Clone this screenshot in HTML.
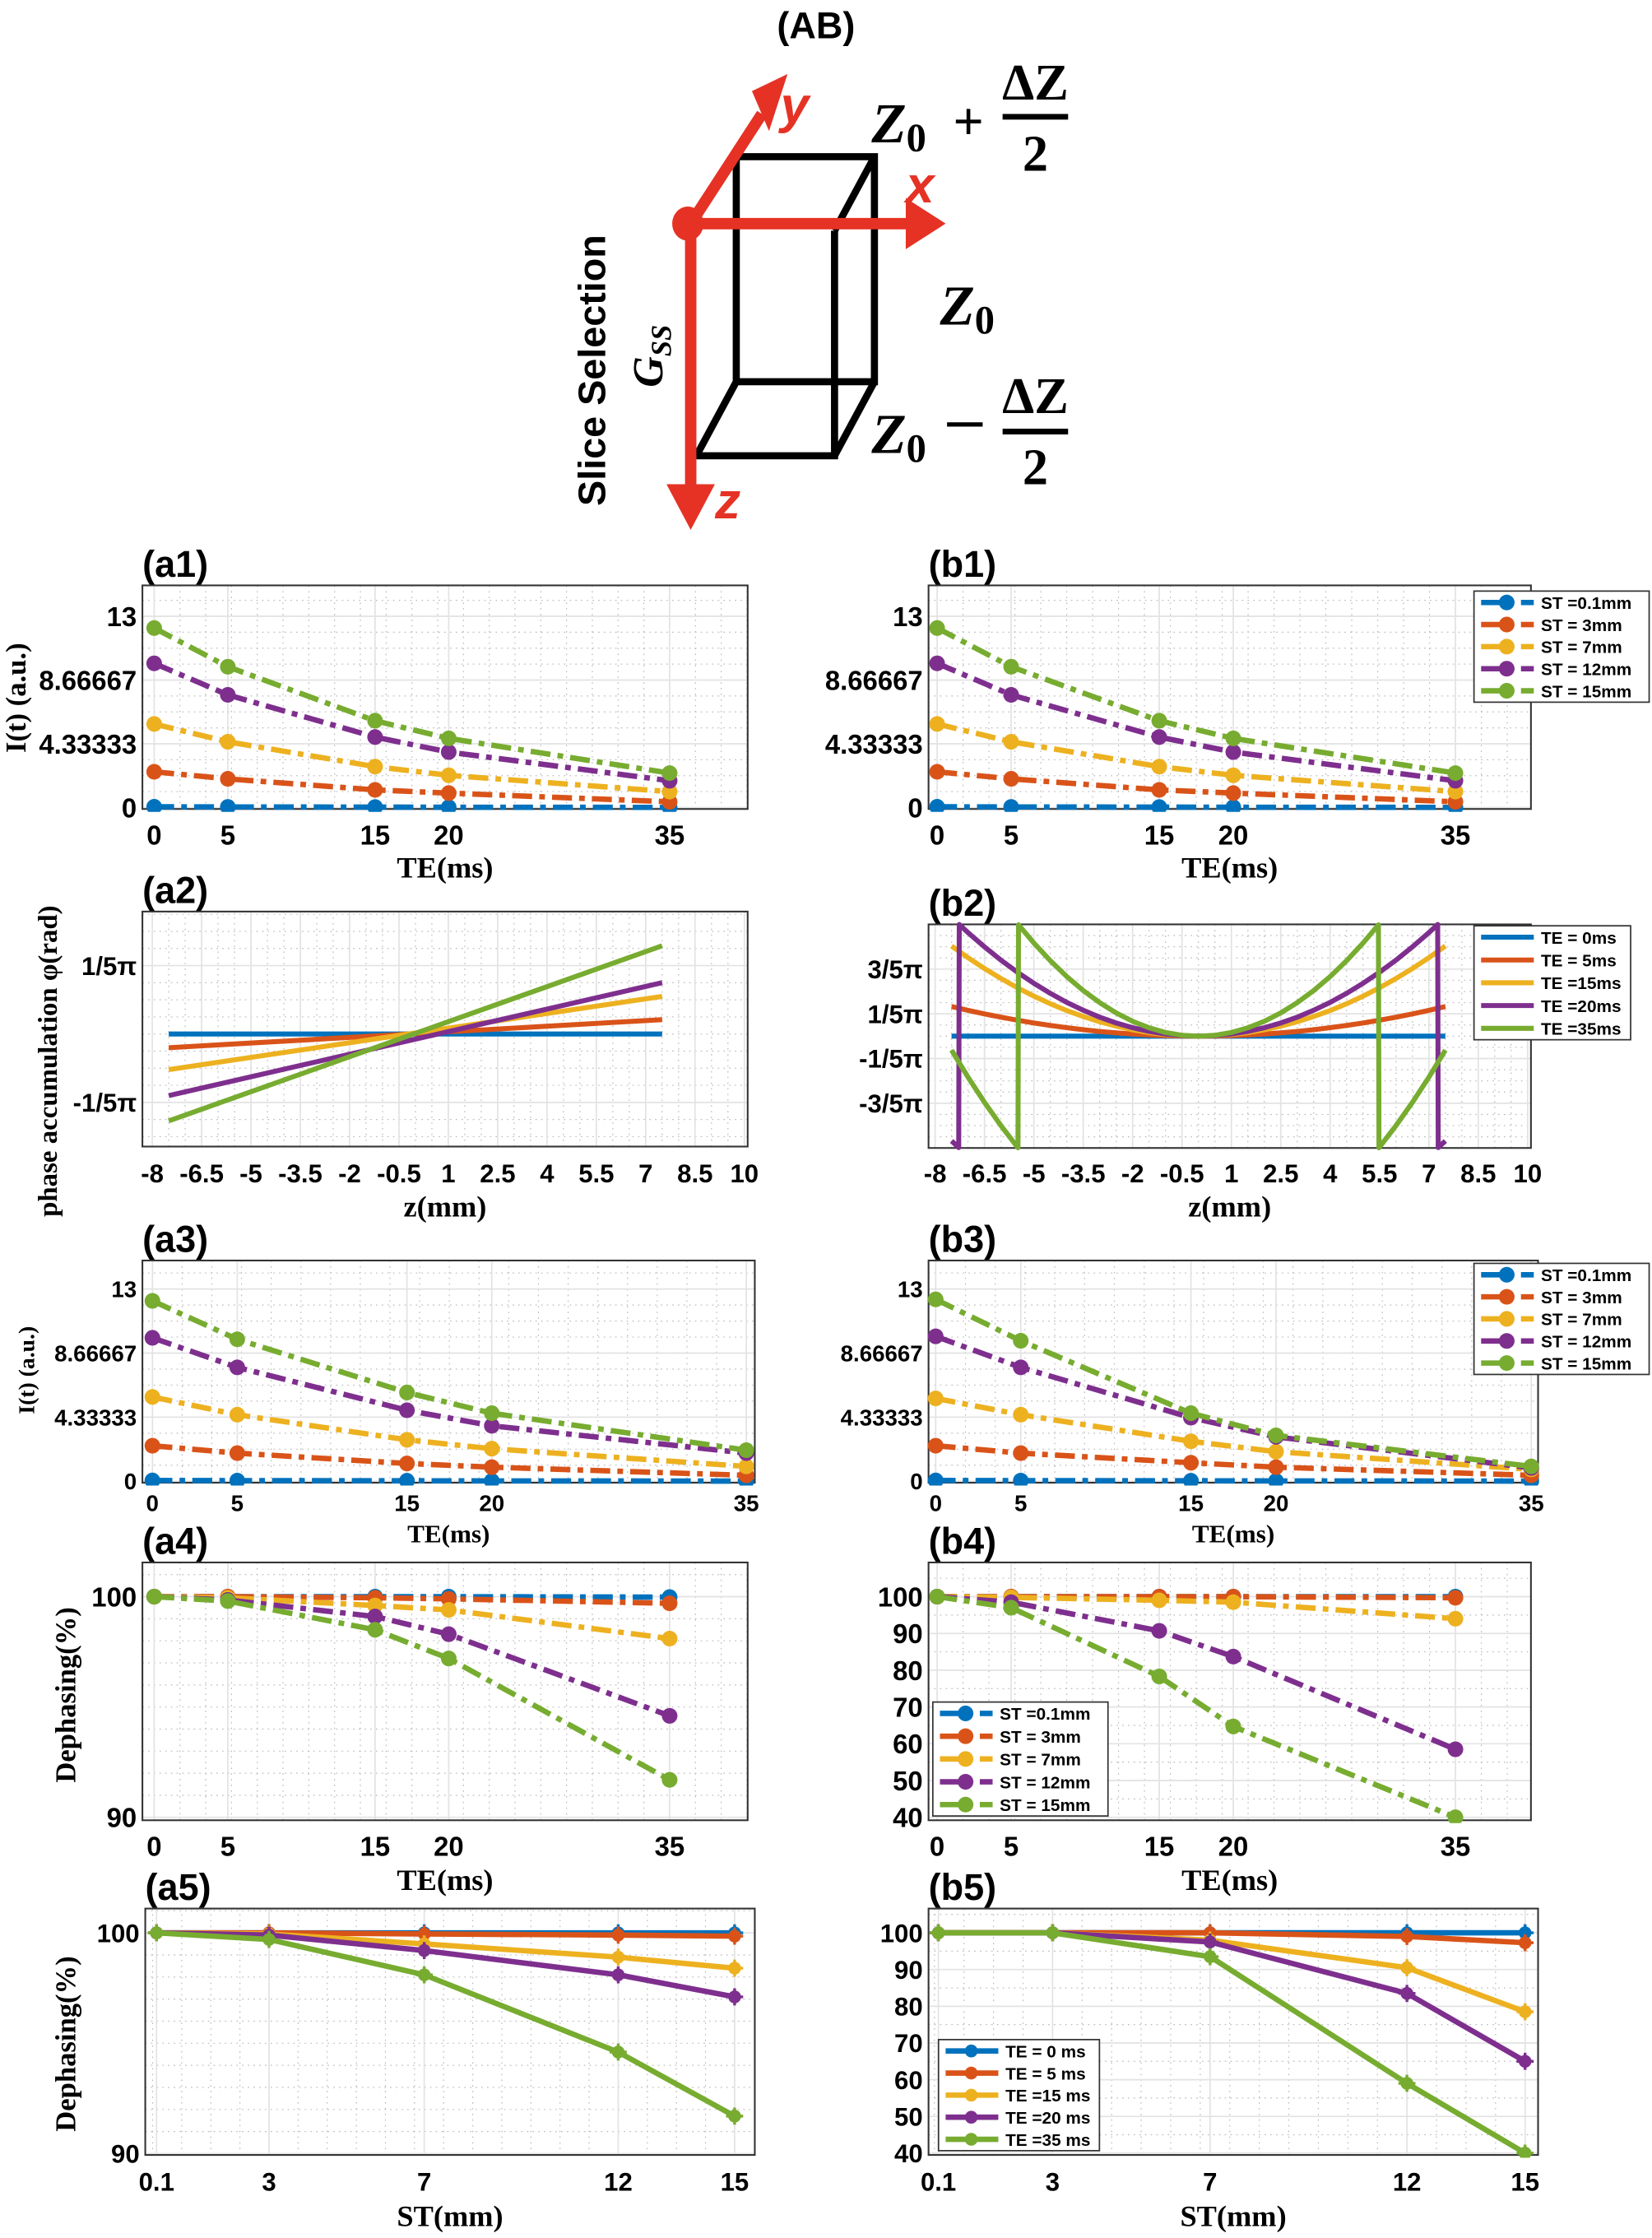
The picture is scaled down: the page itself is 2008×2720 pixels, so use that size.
<!DOCTYPE html>
<html><head><meta charset="utf-8">
<style>
html,body{margin:0;padding:0;background:#fff;}
svg{display:block;}
.tk{font-family:"Liberation Sans Narrow","Liberation Sans",sans-serif;font-weight:bold;fill:#000;}
.ser{font-family:"Liberation Serif",serif;font-weight:bold;fill:#000;}
.ttl{font-family:"Liberation Sans",sans-serif;font-weight:bold;fill:#000;font-size:26px;}
.lg{font-family:"Liberation Sans Narrow","Liberation Sans",sans-serif;font-weight:bold;font-size:12px;fill:#000;}
</style></head>
<body>
<svg id="fig" width="2008" height="2720" viewBox="0 0 1160 1571.3" preserveAspectRatio="none" xmlns="http://www.w3.org/2000/svg">
<rect x="0" y="0" width="1160" height="1571.3" fill="#fff"/>
<g>
  <text x="573" y="27" text-anchor="middle" class="ttl" font-size="24">(AB)</text>
  <g stroke="#000" stroke-width="5" fill="none">
    <polyline points="517,268 517,110 614,110 614,268 517,268"/>
    <polyline points="489,320 586,320 586,162"/>
    <line x1="614" y1="110" x2="586" y2="162"/>
    <line x1="614" y1="268" x2="586" y2="320"/>
    <line x1="517" y1="268" x2="489" y2="320"/>
  </g>
  <g fill="#e53225" stroke="none">
    <line x1="485" y1="157" x2="535" y2="80" stroke="#e53225" stroke-width="8"/>
    <polygon points="528,64 553,52 540,92"/>
    <line x1="485" y1="157" x2="640" y2="157" stroke="#e53225" stroke-width="8"/>
    <polygon points="636,139 664,157 636,175"/>
    <line x1="485" y1="157" x2="485" y2="345" stroke="#e53225" stroke-width="8"/>
    <polygon points="468,340 502,340 485,372"/>
    <ellipse cx="483" cy="157" rx="11" ry="12"/>
  </g>
  <text x="548" y="86" fill="#e53225" font-family="Liberation Sans,sans-serif" font-weight="bold" font-style="italic" font-size="36">y</text>
  <text x="636" y="142" fill="#e53225" font-family="Liberation Sans,sans-serif" font-weight="bold" font-style="italic" font-size="36">x</text>
  <text x="502" y="364" fill="#e53225" font-family="Liberation Sans,sans-serif" font-weight="bold" font-style="italic" font-size="36">z</text>
  <g class="ser" font-style="italic">
    <text x="612" y="100" font-size="40">Z<tspan font-size="28" font-style="normal" dy="6">0</tspan></text>
    <text x="680" y="98" font-size="38" text-anchor="middle" font-style="normal">+</text>
    <text x="727" y="70" font-size="36" text-anchor="middle" font-style="normal">ΔZ</text>
    <line x1="704" y1="82" x2="750" y2="82" stroke="#000" stroke-width="4"/>
    <text x="727" y="120" font-size="36" text-anchor="middle" font-style="normal">2</text>
  </g>
  <text x="660" y="228" class="ser" font-style="italic" font-size="40">Z<tspan font-size="28" font-style="normal" dy="6">0</tspan></text>
  <g class="ser" font-style="italic">
    <text x="612" y="318" font-size="40">Z<tspan font-size="28" font-style="normal" dy="6">0</tspan></text>
    <line x1="665" y1="298" x2="690" y2="298" stroke="#000" stroke-width="3"/>
    <text x="727" y="290" font-size="36" text-anchor="middle" font-style="normal">ΔZ</text>
    <line x1="704" y1="303" x2="750" y2="303" stroke="#000" stroke-width="4"/>
    <text x="727" y="340" font-size="36" text-anchor="middle" font-style="normal">2</text>
  </g>
  <text transform="translate(425,260) rotate(-90)" text-anchor="middle" font-family="Liberation Sans,sans-serif" font-weight="bold" font-size="27">Slice Selection</text>
  <text transform="translate(465,250) rotate(-90)" text-anchor="middle" class="ser" font-style="italic" font-size="30">G<tspan font-size="20" dy="6">SS</tspan></text>
</g>
<g id="charts"></g>
</svg>
<script>
const NS = "http://www.w3.org/2000/svg";
const COLORS = ["#0072BD","#D95319","#EDB120","#7E2F8E","#77AC30"];
// ---------- data ----------
const teValues = [0,5,15,20,35];
const teTickLabels = ["0","5","15","20","35"];
const intensityTicks = [0,4.33333,8.66667,13];
const intensityTickLabels = ["0","4.33333","8.66667","13"];
const stNames = ["ST =0.1mm","ST =  3mm","ST =  7mm","ST = 12mm","ST = 15mm"];
const teNames = ["TE = 0ms","TE = 5ms","TE =15ms","TE =20ms","TE =35ms"];
const teNames5 = ["TE = 0 ms","TE = 5 ms","TE =15 ms","TE =20 ms","TE =35 ms"];
const a1Blue = [0.05,0.04,0.03,0.02,0.01];
const a1Orange = [2.43,1.95,1.2,0.98,0.39];
const a1Yellow = [5.68,4.47,2.78,2.19,1.08];
const a1Purple = [9.8,7.66,4.79,3.77,1.82];
const a1Green = [12.2,9.57,5.9,4.7,2.34];
const b1Blue = [0.05,0.04,0.03,0.02,0.01];
const b1Orange = [2.43,1.95,1.2,0.98,0.39];
const b1Yellow = [5.68,4.47,2.78,2.19,1.08];
const b1Purple = [9.8,7.66,4.79,3.77,1.82];
const b1Green = [12.2,9.57,5.9,4.7,2.34];
const a2Z = [-7.5,7.5];
const a2Blue = [0,0];
const a2Orange = [-0.04,0.042];
const a2Yellow = [-0.104,0.11];
const a2Purple = [-0.18,0.15];
const a2Green = [-0.254,0.258];
const phaseZTicks = [-8,-6.5,-5,-3.5,-2,-0.5,1,2.5,4,5.5,7,8.5,10];
const phaseZTickLabels = ["-8","-6.5","-5","-3.5","-2","-0.5","1","2.5","4","5.5","7","8.5","10"];
const a2YTicks = [-0.2,0.2];
const a2YTickLabels = ["-1/5π","1/5π"];
const b2YTicks = [-0.6,-0.2,0.2,0.6];
const b2YTickLabels = ["-3/5π","-1/5π","1/5π","3/5π"];
const b2Z = [-7.5,-7,-6.5,-6,-5.5,-5,-4.5,-4,-3.5,-3,-2.5,-2,-1.5,-1,-0.5,0,0.5,1,1.5,2,2.5,3,3.5,4,4.5,5,5.5,6,6.5,7,7.5];
const b2Blue = [0,0,0,0,0,0,0,0,0,0,0,0,0,0,0,0,0,0,0,0,0,0,0,0,0,0,0,0,0,0,0];
const b2Orange = [0.265,0.231,0.199,0.170,0.143,0.118,0.096,0.076,0.058,0.042,0.030,0.019,0.011,0.005,0.001,0,0.001,0.005,0.011,0.019,0.030,0.042,0.058,0.076,0.096,0.118,0.143,0.170,0.199,0.231,0.265];
const b2Yellow = [0.806,0.702,0.605,0.516,0.433,0.358,0.290,0.229,0.176,0.129,0.090,0.057,0.032,0.014,0.004,0,0.004,0.014,0.032,0.057,0.090,0.129,0.176,0.229,0.290,0.358,0.433,0.516,0.605,0.702,0.806];
const b2Purple = [1.063,0.926,0.799,0.680,0.572,0.473,0.383,0.302,0.232,0.170,0.118,0.076,0.043,0.019,0.005,0,0.005,0.019,0.043,0.076,0.118,0.170,0.232,0.302,0.383,0.473,0.572,0.680,0.799,0.926,1.063];
const b2Green = [1.875,1.633,1.408,1.200,1.008,0.833,0.675,0.533,0.408,0.300,0.208,0.133,0.075,0.033,0.008,0,0.008,0.033,0.075,0.133,0.208,0.300,0.408,0.533,0.675,0.833,1.008,1.200,1.408,1.633,1.875];
const a3Blue = [0.05,0.04,0.03,0.02,0.01];
const a3Orange = [2.4,1.9,1.2,0.95,0.4];
const a3Yellow = [5.7,4.5,2.8,2.2,1.0];
const a3Purple = [9.7,7.7,4.8,3.75,1.9];
const a3Green = [12.2,9.6,6.0,4.6,2.1];
const b3Blue = [0.05,0.04,0.03,0.02,0.01];
const b3Orange = [2.4,1.9,1.25,0.95,0.4];
const b3Yellow = [5.6,4.5,2.7,2.0,0.8];
const b3Purple = [9.8,7.7,4.3,3.0,0.9];
const b3Green = [12.3,9.5,4.6,3.1,1.0];
const a4YTicks = [90,100];
const a4YTickLabels = ["90","100"];
const a4Blue = [100,100,100,100,99.98];
const a4Orange = [100,100,99.95,99.9,99.7];
const a4Yellow = [100,99.95,99.6,99.4,98.1];
const a4Purple = [100,99.85,99.1,98.3,94.6];
const a4Green = [100,99.8,98.5,97.2,91.7];
const b4YTicks = [40,50,60,70,80,90,100];
const b4YTickLabels = ["40","50","60","70","80","90","100"];
const b4Blue = [100,100,100,100,100];
const b4Orange = [100,100,100,100,99.7];
const b4Yellow = [100,99.8,99,98.5,94];
const b4Purple = [100,98.5,90.7,83.7,58.5];
const b4Green = [100,97,78.3,64.7,40];
const stValues = [0.1,3,7,12,15];
const stTickLabels = ["0.1","3","7","12","15"];
const a5Blue = [100,100,100,100,100];
const a5Orange = [100,100,99.95,99.9,99.85];
const a5Yellow = [100,99.95,99.5,98.9,98.4];
const a5Purple = [100,99.9,99.2,98.1,97.1];
const a5Green = [100,99.7,98.1,94.6,91.7];
const b5Blue = [100,100,100,100,100];
const b5Orange = [100,100,100,99,97.3];
const b5Yellow = [100,100,98,90.5,78.5];
const b5Purple = [100,100,97.5,83.5,65];
const b5Green = [100,100,93.5,59,40];

const root = document.getElementById('charts');
function mk(tag, attrs, parent){
  const e = document.createElementNS(NS, tag);
  for (const k in attrs) e.setAttribute(k, attrs[k]);
  (parent||root).appendChild(e);
  return e;
}
function scale(d0,d1,p0,p1){ return v => p0 + (v-d0)/(d1-d0)*(p1-p0); }

function panel(c){
  const g = mk('g', {});
  
  
  const sx = scale(c.xd[0],c.xd[1],c.px[0],c.px[1]);
  const sy = scale(c.yd[0],c.yd[1],c.py[1],c.py[0]);
  for (let v=c.xminor[0]; v<=c.xd[1]; v+=c.xminor[1]) {
    if (v < c.xd[0]) continue;
    const l = mk('line', {x1:sx(v),x2:sx(v),y1:c.py[0],y2:c.py[1],stroke:'#bdbdbd','stroke-width':0.7,'stroke-dasharray':'1 3'}, g);
    
    
  }
  for (let v=c.yminor[0]; v<=c.yd[1]; v+=c.yminor[1]) {
    if (v < c.yd[0]) continue;
    const l = mk('line', {y1:sy(v),y2:sy(v),x1:c.px[0],x2:c.px[1],stroke:'#bdbdbd','stroke-width':0.7,'stroke-dasharray':'1 3'}, g);
    
    
  }
  c.xt.forEach((v,i)=>{
    const l = mk('line', {x1:sx(v),x2:sx(v),y1:c.py[0],y2:c.py[1],stroke:'#e3e3e3','stroke-width':1}, g);
    
    
    const t = mk('text', {x:sx(v), y:c.py[1]+c.xtOff, 'text-anchor':'middle', class:'tk', 'font-size':c.fs}, g);
    t.textContent = c.xtl[i];
    
    
  });
  c.yt.forEach((v,i)=>{
    const l = mk('line', {y1:sy(v),y2:sy(v),x1:c.px[0],x2:c.px[1],stroke:'#e3e3e3','stroke-width':1}, g);
    
    
    const t = mk('text', {x:c.px[0]-4, y:sy(v)+c.fs*0.36, 'text-anchor':'end', class:'tk', 'font-size':c.fs}, g);
    t.textContent = c.ytl[i];
    
    
  });
  const box = mk('rect', {x:c.px[0], y:c.py[0], width:c.px[1]-c.px[0], height:c.py[1]-c.py[0], fill:'none', stroke:'#333', 'stroke-width':1.2}, g);
  
  
  const cl = 'clip-'+c.name;
  const cp = mk('clipPath', {id:cl}, g);
  mk('rect', {x:c.px[0]-7, y:c.py[0]-2, width:c.px[1]-c.px[0]+14, height:c.py[1]-c.py[0]+4}, cp);
  const sg = mk('g', {'clip-path':'url(#'+cl+')'}, g);
  c.series.forEach((ys,k)=>{
    let pts = [];
    if (c.wrap) {
      for (let i=0;i<c.xs.length-1;i++){
        for (let s=0;s<30;s++){
          const t=s/30;
          const z=c.xs[i]+(c.xs[i+1]-c.xs[i])*t;
          const v=ys[i]+(ys[i+1]-ys[i])*t;
          const w=v-2*Math.round(v/2);
          pts.push(sx(z).toFixed(2)+','+sy(w).toFixed(2));
        }
      }
      const vl=ys[ys.length-1]; const wl=vl-2*Math.round(vl/2);
      pts.push(sx(c.xs[c.xs.length-1]).toFixed(2)+','+sy(wl).toFixed(2));
    } else {
      pts = c.xs.map((x,i)=>sx(x).toFixed(2)+','+sy(ys[i]).toFixed(2));
    }
    const pl = mk('polyline', {points:pts.join(' '), fill:'none', stroke:COLORS[k], 'stroke-width':c.lw, 'stroke-dasharray':c.dash||'none','stroke-linejoin':'round'}, sg);
    
    
    if (c.marker) {
      c.xs.forEach((x,i)=>{
        const m = mk('circle', {cx:sx(x), cy:sy(ys[i]), r:c.mr, fill:COLORS[k]}, sg);
        
        
        if (c.star) {
          const s = mk('path', {d:`M${sx(x)-6},${sy(ys[i])}h12M${sx(x)},${sy(ys[i])-6}v12`, stroke:COLORS[k], 'stroke-width':2}, sg);
          
          
        }
      });
    }
  });
  const ti = mk('text', {x:c.px[0], y:c.py[0]-6, class:'ttl'}, g);
  ti.textContent = c.title;
  
  
  const xl = mk('text', {x:(c.px[0]+c.px[1])/2, y:c.xlY, 'text-anchor':'middle', class:'ser', 'font-size':c.xlfs}, g);
  xl.textContent = c.xlabel;
  
  
  if (c.ylabel) {
    const yl = mk('text', {transform:`translate(${c.ylX},${c.ylY}) rotate(-90)`, 'text-anchor':'middle', class:'ser', 'font-size':c.ylfs}, g);
    yl.textContent = c.ylabel;
    
    
  }
  if (c.legend) {
    const L = c.legend;
    const lg = mk('g', {}, g);
    
    
    mk('rect', {x:L.x, y:L.y, width:L.w, height:L.h, fill:'#fff', stroke:'#333', 'stroke-width':1}, lg);
    L.names.forEach((n,k)=>{
      const yy = L.y + 8 + k*(L.h-16)/4;
      const ln = mk('line', {x1:L.x+5, x2:L.x+42, y1:yy, y2:yy, stroke:COLORS[k], 'stroke-width':c.lw, 'stroke-dasharray':c.dash||'none'}, lg);
      
      
      if (c.marker) mk('circle', {cx:L.x+23, cy:yy, r:c.mr, fill:COLORS[k]}, lg);
      const t = mk('text', {x:L.x+47, y:yy+4.5, class:'lg'}, lg);
      t.textContent = n;
      
      
    });
  }
}
const DD = '14 5 4 5';
const rowI = (name,title,px,xd,py,yd,series,legend,ylabel)=>({name,title,px,xd,py,yd,xs:teValues,xt:teValues,xtl:teTickLabels,yt:intensityTicks,ytl:intensityTickLabels,
  xminor:[0,1.75],yminor:[0,1.0833],series,legend,fs:19,xtOff:25,lw:3.8,dash:DD,marker:true,mr:5.5,xlabel:'TE(ms)',xlY:py[1]+48,xlfs:21,ylabel,ylX:18,ylY:490,ylfs:20});
panel(rowI('panel-a1','(a1)',[100,525],[-0.8,40.3],[411,568],[-0.1,15.1],[a1Blue,a1Orange,a1Yellow,a1Purple,a1Green],null,'I(t) (a.u.)'));
panel(rowI('panel-b1','(b1)',[652,1075],[-0.58,40.1],[411,568],[-0.1,15.1],[b1Blue,b1Orange,b1Yellow,b1Purple,b1Green],{x:1035,y:415,w:123,h:78,names:stNames},null));
panel({name:'panel-a2',title:'(a2)',px:[100,525],xd:[-8.3,10.1],py:[640,805],yd:[-0.329,0.358],xs:a2Z,xt:phaseZTicks,xtl:phaseZTickLabels,yt:a2YTicks,ytl:a2YTickLabels,
  xminor:[-8,0.5],yminor:[-0.3,0.05],series:[a2Blue,a2Orange,a2Yellow,a2Purple,a2Green],fs:18,xtOff:25,lw:3.5,xlabel:'z(mm)',xlY:854,xlfs:21,ylabel:'phase accumulation  φ(rad)',ylX:40,ylY:745,ylfs:19});
panel({name:'panel-b2',title:'(b2)',px:[652,1075],xd:[-8.2,10.1],py:[649,806],yd:[-1.0,1.0],xs:b2Z,wrap:true,xt:phaseZTicks,xtl:phaseZTickLabels,yt:b2YTicks,ytl:b2YTickLabels,
  xminor:[-8,0.5],yminor:[-1,0.1],series:[b2Blue,b2Orange,b2Yellow,b2Purple,b2Green],legend:{x:1035,y:650,w:110,h:80,names:teNames},fs:18,xtOff:24,lw:3.5,xlabel:'z(mm)',xlY:854,xlfs:21});
const rowI3 = (name,title,px,xd,series,legend,ylabel)=>({name,title,px,xd,py:[885,1041],yd:[-0.1,14.93],xs:teValues,xt:teValues,xtl:teTickLabels,yt:intensityTicks,ytl:intensityTickLabels,
  xminor:[0,1.75],yminor:[0,1.0833],series,legend,fs:16,xtOff:20,lw:3.8,dash:DD,marker:true,mr:5.5,xlabel:'TE(ms)',xlY:1083,xlfs:18,ylabel,ylX:24,ylY:962,ylfs:16});
panel(rowI3('panel-a3','(a3)',[100,530],[-0.59,35.5],[a3Blue,a3Orange,a3Yellow,a3Purple,a3Green],null,'I(t) (a.u.)'));
panel(rowI3('panel-b3','(b3)',[652,1080],[-0.42,35.4],[b3Blue,b3Orange,b3Yellow,b3Purple,b3Green],{x:1035,y:887,w:123,h:78,names:stNames},null));
const row4 = (name,title,px,xd,yd,yt,ytl,ymin,series,legend,ylabel)=>({name,title,px,xd,py:[1097,1278],yd,xs:teValues,xt:teValues,xtl:teTickLabels,yt,ytl,
  xminor:[0,1.75],yminor:ymin,series,legend,fs:19,xtOff:25,lw:3.8,dash:DD,marker:true,mr:5.5,xlabel:'TE(ms)',xlY:1327,xlfs:21,ylabel,ylX:53,ylY:1190,ylfs:20});
panel(row4('panel-a4','(a4)',[100,525],[-0.8,40.3],[89.87,101.55],a4YTicks,a4YTickLabels,[90,1],[a4Blue,a4Orange,a4Yellow,a4Purple,a4Green],null,'Dephasing(%)'));
panel(row4('panel-b4','(b4)',[652,1075],[-0.58,40.1],[39.2,109.3],b4YTicks,b4YTickLabels,[40,5],[b4Blue,b4Orange,b4Yellow,b4Purple,b4Green],{x:655,y:1195,w:123,h:80,names:stNames},null));
const row5 = (name,title,px,xd,yd,yt,ytl,ymin,series,legend,ylabel)=>({name,title,px,xd,py:[1340,1513],yd,xs:stValues,xt:stValues,xtl:stTickLabels,yt,ytl,
  xminor:[0,0.75],yminor:ymin,series,legend,fs:18,xtOff:25,lw:3.8,marker:true,star:true,mr:4.5,xlabel:'ST(mm)',xlY:1563,xlfs:21,ylabel,ylX:53,ylY:1435,ylfs:20});
panel(row5('panel-a5','(a5)',[102,530],[-0.19,15.52],[89.94,101.1],a4YTicks,a4YTickLabels,[90,1],[a5Blue,a5Orange,a5Yellow,a5Purple,a5Green],null,'Dephasing(%)'));
panel(row5('panel-b5','(b5)',[652,1080],[-0.15,15.33],[39.5,106.6],b4YTicks,b4YTickLabels,[40,5],[b5Blue,b5Orange,b5Yellow,b5Purple,b5Green],{x:659,y:1432,w:113,h:78,names:teNames5},null));
</script>
</body></html>
